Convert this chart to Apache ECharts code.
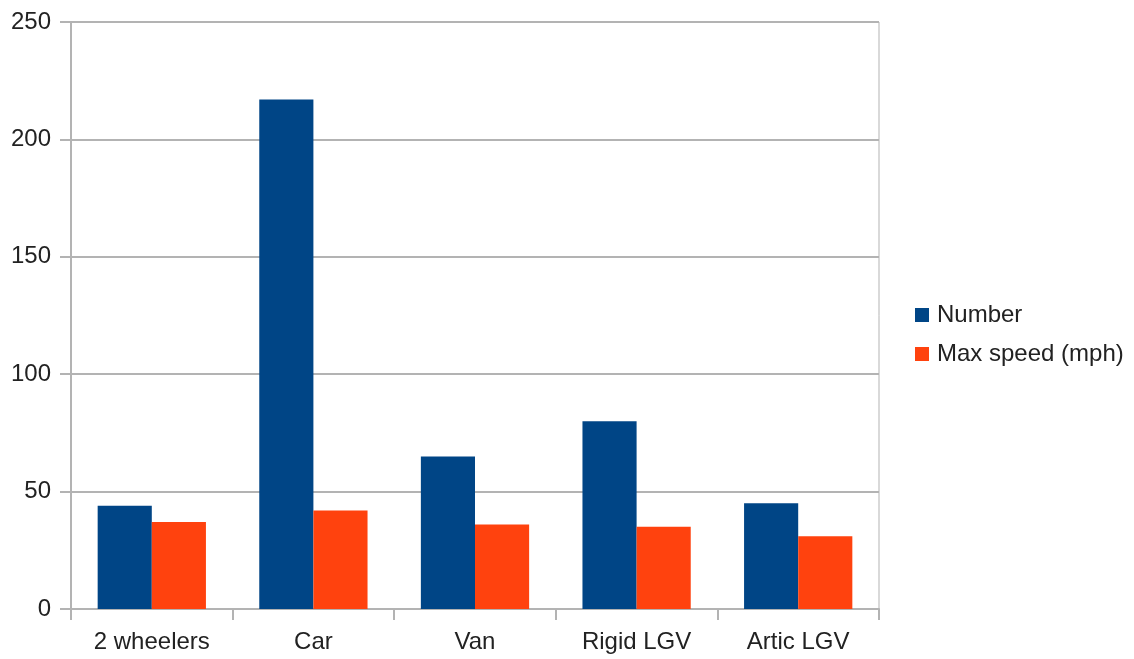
<!DOCTYPE html>
<html>
<head>
<meta charset="utf-8">
<script src="https://cdn.jsdelivr.net/npm/echarts@6/dist/echarts.min.js"></script>
<style>
  html, body { margin: 0; padding: 0; background: #fff; }
  #chart { width: 1134px; height: 659px; }
</style>
</head>
<body>
<div id="chart"></div>
<script>
// Vehicle classes along the x axis
const categories = ['2 wheelers', 'Car', 'Van', 'Rigid LGV', 'Artic LGV'];
// Count of vehicles per class
const numberValues = [44, 217, 65, 80, 45];
// Maximum speed per class, mph
const maxSpeedValues = [37, 42, 36, 35, 31];
// Value axis ticks
const yMin = 0, yMax = 250, yStep = 50;

const FONT = '"Liberation Sans", Arial, sans-serif';
const TEXT = '#222';
const LINE = '#b3b3b3';

const chart = echarts.init(document.getElementById('chart'), null, { renderer: 'canvas' });
chart.setOption({
  animation: false,
  backgroundColor: '#fff',
  textStyle: { fontFamily: FONT },
  grid: {
    left: 71, right: 255, top: 22, bottom: 50,
    show: true, borderColor: LINE, borderWidth: 1, backgroundColor: 'transparent'
  },
  legend: {
    orient: 'vertical',
    left: 910, top: 298,
    itemWidth: 14, itemHeight: 14, itemGap: 15,
    icon: 'rect',
    textStyle: { fontFamily: FONT, fontSize: 24, color: TEXT, padding: [0, 0, 0, 3] },
    data: ['Number', 'Max speed (mph)']
  },
  xAxis: {
    type: 'category',
    data: categories,
    boundaryGap: true,
    axisLine: { show: true, lineStyle: { color: LINE, width: 2 } },
    axisTick: { show: true, length: 11, lineStyle: { color: LINE, width: 2 } },
    axisLabel: { fontFamily: FONT, fontSize: 24, color: TEXT, margin: 21 },
    splitLine: { show: false }
  },
  yAxis: {
    type: 'value',
    min: yMin, max: yMax, interval: yStep,
    axisLine: { show: true, lineStyle: { color: LINE, width: 2 } },
    axisTick: { show: true, length: 11, lineStyle: { color: LINE, width: 2 } },
    axisLabel: { fontFamily: FONT, fontSize: 24, color: TEXT, margin: 20 },
    splitLine: { show: true, lineStyle: { color: LINE, width: 2 } }
  },
  series: [
    {
      name: 'Number', type: 'bar', data: numberValues,
      itemStyle: { color: '#004586' },
      barGap: '0%', barCategoryGap: '33%'
    },
    {
      name: 'Max speed (mph)', type: 'bar', data: maxSpeedValues,
      itemStyle: { color: '#ff420e' },
      barGap: '0%', barCategoryGap: '33%'
    }
  ]
});
</script>
</body>
</html>
